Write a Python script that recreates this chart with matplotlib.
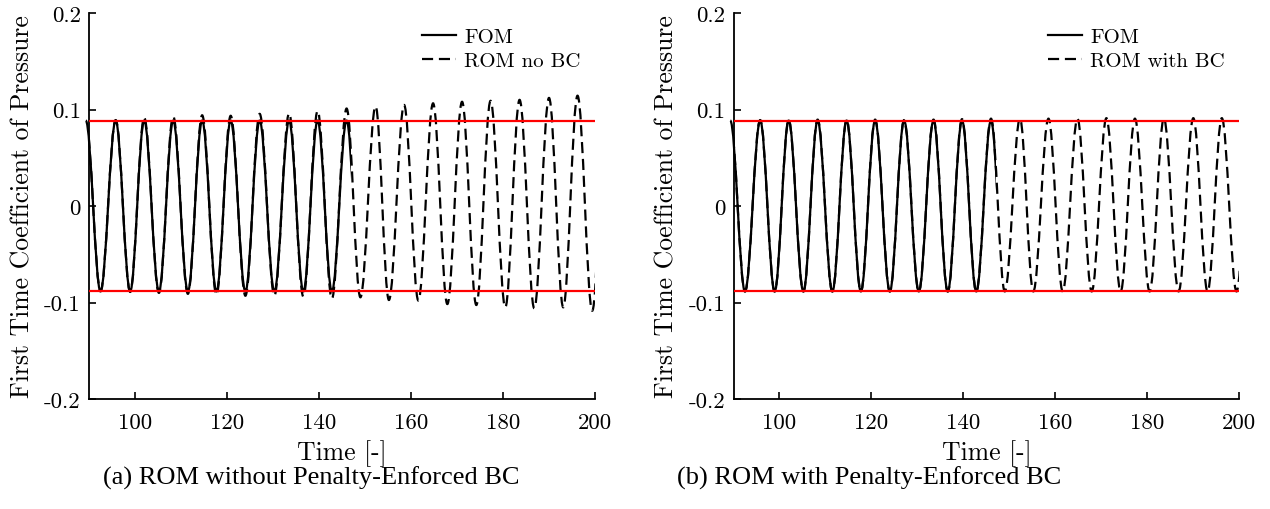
"""FOM vs ROM: first time coefficient of pressure, without / with penalty-enforced BC."""
import numpy as np
import matplotlib
matplotlib.use('Agg')
import matplotlib.pyplot as plt
from matplotlib.path import Path
from matplotlib.patches import PathPatch, Rectangle
from matplotlib.lines import Line2D

plt.rcParams['font.family'] = 'cmr10'
plt.rcParams['axes.unicode_minus'] = False
plt.rcParams['mathtext.fontset'] = 'cm'

# extremum times (peak / trough alternating)
t_ext = [89.3, 92.5, 95.8, 98.95, 102.0, 105.2, 108.3, 111.5, 114.6, 117.7,
         120.8, 124.0, 127.1, 130.3, 133.5, 136.6, 139.7, 142.8, 146.0, 149.0,
         152.3, 155.2, 158.5, 161.6, 164.8, 167.9, 171.1, 174.2, 177.3, 180.5,
         183.6, 186.8, 190.0, 193.1, 196.2, 199.4, 202.5]

fom_ext = [0.0885, -0.0885, 0.0885, -0.0885, 0.0885, -0.0885, 0.0885, -0.0885, 0.0885, -0.0885,
           0.0885, -0.0885, 0.0885, -0.0885, 0.0885, -0.0885, 0.0885, -0.0885, 0.0885, -0.0885,
           0.0885, -0.0885, 0.0885, -0.0885, 0.0885, -0.0885, 0.0885, -0.0885, 0.0885, -0.0885,
           0.0885, -0.0885, 0.0885, -0.0885, 0.0885, -0.0885, 0.0885]
fom_end = 147.0

rom_nobc_ext = [0.088, -0.088, 0.089, -0.089, 0.0915, -0.090, 0.093, -0.091, 0.094, -0.092,
                0.0935, -0.093, 0.0955, -0.093, 0.096, -0.094, 0.0985, -0.096, 0.101, -0.0946,
                0.1033, -0.0974, 0.1047, -0.098, 0.1064, -0.1016, 0.108, -0.1026, 0.109, -0.105,
                0.110, -0.106, 0.112, -0.105, 0.1143, -0.1085, 0.115]

rom_bc_ext = [0.0885, -0.0885, 0.089, -0.0885, 0.089, -0.0885, 0.0895, -0.0885, 0.089, -0.0885,
              0.0895, -0.0885, 0.089, -0.0885, 0.0895, -0.0885, 0.090, -0.0885, 0.0905, -0.0885,
              0.0905, -0.0885, 0.0905, -0.0885, 0.0905, -0.0885, 0.091, -0.0885, 0.0905, -0.0885,
              0.0905, -0.0885, 0.091, -0.0885, 0.091, -0.0885, 0.0905]

bound = 0.0885
yticks = [-0.2, -0.1, 0.0, 0.1, 0.2]
yticklabels = ['-0.2', '-0.1', '0', '0.1', '0.2']
xticks = [100, 120, 140, 160, 180, 200]

panels = [
    ('ROM no BC', rom_nobc_ext, '(a) ROM without Penalty-Enforced BC', 103),
    ('ROM with BC', rom_bc_ext, '(b) ROM with Penalty-Enforced BC', 677),
]

K = 1 - 2 / np.pi  # cubic bezier handle ratio ~ half cosine


def wave_path(t, v):
    verts = [(t[0], v[0])]
    codes = [Path.MOVETO]
    for i in range(1, len(t)):
        h = t[i] - t[i - 1]
        verts += [(t[i - 1] + K * h, v[i - 1]), (t[i] - K * h, v[i]), (t[i], v[i])]
        codes += [Path.CURVE4] * 3
    return Path(verts, codes)


W, H = 1270, 510
fig = plt.figure(figsize=(W / 100, H / 100), dpi=100)
ax_pos = [(89, 595), (733.5, 1239.3)]
dash = (0, (5, 2.6))

for (rom_name, rom_ext, caption, cap_x), (x0, x1) in zip(panels, ax_pos):
    ax = fig.add_axes([x0 / W, (H - 400) / H, (x1 - x0) / W, 386 / H])

    rom = PathPatch(wave_path(t_ext, rom_ext), fill=False, edgecolor='black',
                    lw=1.6, linestyle=dash, zorder=2)
    ax.add_patch(rom)
    fom = PathPatch(wave_path(t_ext, fom_ext), fill=False, edgecolor='black',
                    lw=1.6, zorder=3)
    ax.add_patch(fom)
    fom.set_clip_path(Rectangle((80, -1), fom_end - 80, 2, transform=ax.transData))

    ax.axhline(bound, color='red', lw=1.6, zorder=4)
    ax.axhline(-bound, color='red', lw=1.6, zorder=4)

    ax.set_xlim(90, 200)
    ax.set_ylim(-0.2, 0.2)
    ax.set_xticks(xticks)
    ax.set_yticks(yticks)
    ax.set_yticklabels(yticklabels)
    ax.spines['top'].set_visible(False)
    ax.spines['right'].set_visible(False)
    ax.spines['left'].set_linewidth(1.3)
    ax.spines['bottom'].set_linewidth(1.3)
    ax.tick_params(direction='in', length=5, width=1.2, labelsize=16.5)
    ax.tick_params(axis='x', pad=10)
    ax.tick_params(axis='y', pad=6)
    ax.set_xlabel('Time [-]', fontsize=18.5, labelpad=5)
    ax.set_ylabel('First Time Coefficient of Pressure', fontsize=18.5, labelpad=7)

    handles = [Line2D([], [], color='black', lw=1.6),
               Line2D([], [], color='black', lw=1.6, linestyle=dash)]
    ax.legend(handles, ['FOM', rom_name], loc='upper right', frameon=False,
              fontsize=15, handlelength=1.6, handletextpad=0.4,
              labelspacing=0.25, borderaxespad=0.3, borderpad=0.4)

    fig.text(cap_x / W, 1 - 478 / H, caption, family='Liberation Serif',
             fontsize=19, ha='left', va='center')

fig.savefig('out.png', dpi=100)
